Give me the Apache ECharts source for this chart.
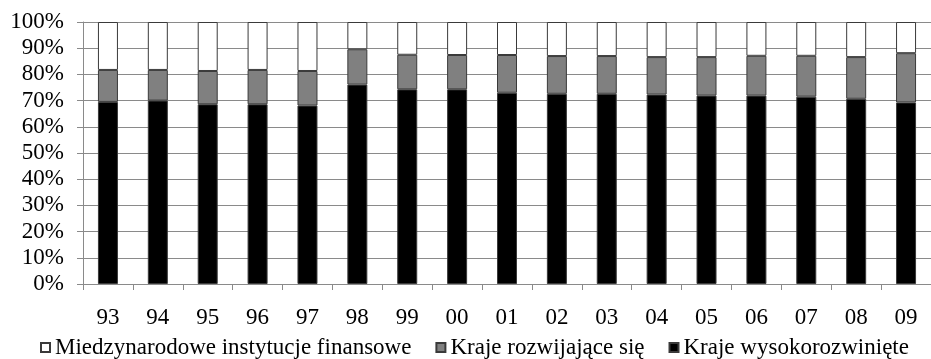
<!DOCTYPE html>
<html>
<head>
<meta charset="utf-8">
<script src="https://cdn.jsdelivr.net/npm/echarts@6/dist/echarts.min.js"></script>
<style>
  html, body { margin: 0; padding: 0; background: #fff; }
  #chart { width: 931px; height: 359px; }
</style>
</head>
<body>
<div id="chart"></div>
<script>
const years = ['93', '94', '95', '96', '97', '98', '99', '00', '01', '02', '03', '04', '05', '06', '07', '08', '09'];

// udzialy w %
const wysokorozwiniete = [69.5, 70.0, 68.6, 68.6, 68.1, 76.1, 74.3, 74.3, 73.0, 72.6, 72.6, 72.3, 71.9, 71.9, 71.5, 70.7, 69.3];
const rozwijajace = [12.2, 11.7, 12.7, 13.1, 13.2, 13.5, 13.2, 13.1, 14.4, 14.4, 14.4, 14.3, 14.7, 15.2, 15.6, 15.9, 18.8];
const miedzynarodowe = [18.3, 18.3, 18.7, 18.3, 18.7, 10.4, 12.5, 12.6, 12.6, 13.0, 13.0, 13.4, 13.4, 12.9, 12.9, 13.4, 11.9];

const names = ['Miedzynarodowe instytucje finansowe', 'Kraje rozwijające się', 'Kraje wysokorozwinięte'];

const font = 'Liberation Serif, Times New Roman, serif';
const gridColor = '#8a8a8a';
const borderColor = '#3a3a3a';

const chart = echarts.init(document.getElementById('chart'));

function barSeries(name, data, color) {
    return {
        name: name,
        type: 'bar',
        stack: 'total',
        data: data,
        barWidth: 20,
        itemStyle: { color: color, borderColor: borderColor, borderWidth: 1 },
        emphasis: { disabled: true }
    };
}

const option = {
    backgroundColor: '#fff',
    animation: false,
    grid: { left: 83, top: 22, width: 864, height: 262 },
    legend: {
        data: [
            { name: names[0], textStyle: { width: 358 } },
            { name: names[1], textStyle: { width: 195 } },
            { name: names[2] }
        ],
        left: 40,
        top: 336,
        padding: 0,
        icon: 'rect',
        itemWidth: 9,
        itemHeight: 9,
        itemGap: 24,
        textStyle: { fontFamily: font, fontSize: 23, color: '#000' }
    },
    xAxis: {
        type: 'category',
        data: years,
        axisLine: { lineStyle: { color: gridColor, width: 1 } },
        axisTick: { show: true, length: 6, lineStyle: { color: gridColor } },
        axisLabel: { fontFamily: font, fontSize: 23, color: '#000', margin: 22 },
        splitLine: { show: false }
    },
    yAxis: {
        type: 'value',
        min: 0,
        max: 100,
        interval: 10,
        axisLine: { show: true, lineStyle: { color: gridColor, width: 1 } },
        axisTick: { show: true, length: 6, lineStyle: { color: gridColor } },
        axisLabel: { fontFamily: font, fontSize: 23, color: '#000', margin: 19, formatter: '{value}%' },
        splitLine: { lineStyle: { color: gridColor, width: 1 } }
    },
    series: [
        barSeries(names[2], wysokorozwiniete, '#000000'),
        barSeries(names[1], rozwijajace, '#808080'),
        barSeries(names[0], miedzynarodowe, '#ffffff')
    ]
};

chart.setOption(option);
</script>
</body>
</html>
